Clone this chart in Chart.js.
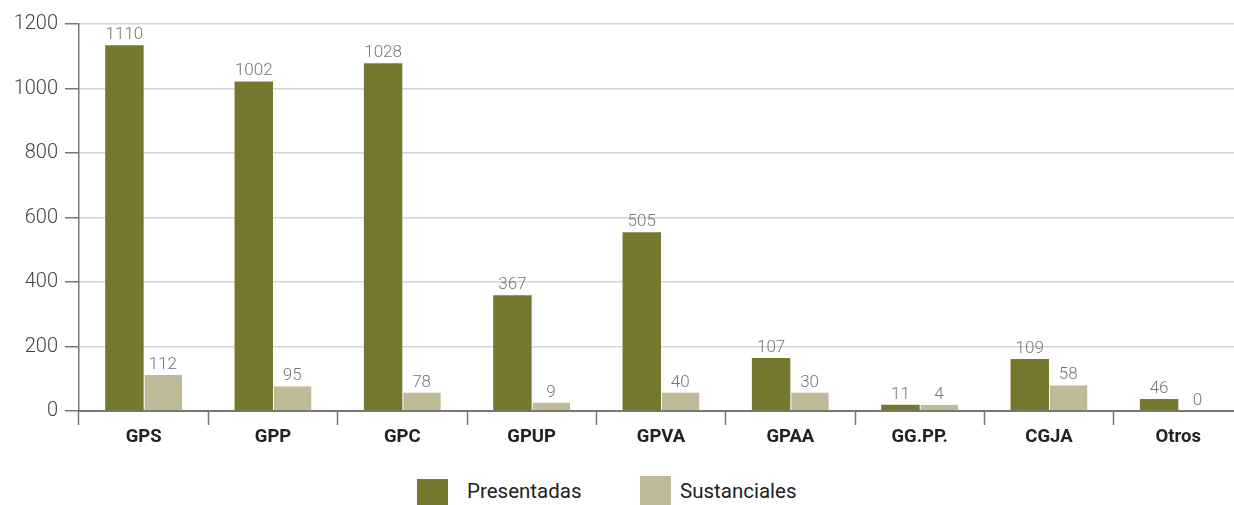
<!DOCTYPE html>
<html>
<head>
<meta charset="utf-8">
<script src="https://cdn.jsdelivr.net/npm/chart.js@4/dist/chart.umd.min.js"></script>
<style>
  html, body { margin: 0; padding: 0; background: #fff; overflow: hidden; }
  #wrap { position: relative; width: 1234px; height: 505px; overflow: hidden; }
  #chart { position: absolute; left: 0; top: 0; }
  .lg-box { position: absolute; width: 31px; height: 31px; }
  .lg-txt { position: absolute; font-family: Roboto, sans-serif; font-size: 20.5px; color: #222; line-height: 22px; }
</style>
</head>
<body>
<div id="wrap">
  <canvas id="chart" width="1250" height="460" style="width:1250px;height:460px"></canvas>
  <div class="lg-box" style="left:417px;top:479px;background:#76782f"></div>
  <div class="lg-txt" style="left:467px;top:480px">Presentadas</div>
  <div class="lg-box" style="left:640px;top:476px;background:#bfbb98"></div>
  <div class="lg-txt" style="left:680px;top:480px">Sustanciales</div>
</div>
<script>
const categories = ["GPS", "GPP", "GPC", "GPUP", "GPVA", "GPAA", "GG.PP.", "CGJA", "Otros"];

// bar heights as drawn in the picture
const presentadas = [1134, 1022, 1078, 359, 554, 164, 19, 161, 37];
const sustanciales = [112, 77, 57, 26, 57, 57, 19, 80, 0];

// value labels printed above the bars
const presentadasLabels = ["1110", "1002", "1028", "367", "505", "107", "11", "109", "46"];
const sustancialesLabels = ["112", "95", "78", "9", "40", "30", "4", "58", "0"];

const yTicks = [0, 200, 400, 600, 800, 1000, 1200];

const OLIVE = "#76782f";
const SAND = "#bfbb98";

const valueLabels = {
    id: "valueLabels",
    afterDatasetsDraw(chart) {
        const ctx = chart.ctx;
        const texts = [presentadasLabels, sustancialesLabels];
        ctx.save();
        ctx.font = "300 17px Roboto, sans-serif";
        ctx.fillStyle = "#777";
        ctx.textAlign = "center";
        ctx.textBaseline = "alphabetic";
        chart.data.datasets.forEach((ds, di) => {
            chart.getDatasetMeta(di).data.forEach((bar, i) => {
                ctx.fillText(texts[di][i], bar.x, bar.y - 6);
            });
        });
        ctx.restore();
    }
};

new Chart(document.getElementById("chart"), {
    type: "bar",
    data: {
        labels: categories,
        datasets: [
            { label: "Presentadas", data: presentadas, backgroundColor: OLIVE },
            {
                label: "Sustanciales", data: sustanciales, backgroundColor: SAND,
                borderColor: "#fff", borderWidth: { left: 1, right: 0, top: 0, bottom: 0 },
                borderSkipped: false
            }
        ]
    },
    options: {
        responsive: false,
        animation: false,
        layout: { padding: { top: 24, right: 7, left: 0, bottom: 0 } },
        datasets: { bar: { barPercentage: 1.0, categoryPercentage: 0.595 } },
        plugins: {
            legend: { display: false },
            tooltip: { enabled: false }
        },
        scales: {
            x: {
                afterFit: s => { s.height = 49; },
                grid: {
                    offset: true,
                    drawOnChartArea: false,
                    tickLength: 14,
                    tickColor: "#777",
                    tickWidth: 1.5
                },
                border: { color: "#777", width: 2 },
                ticks: {
                    padding: 1,
                    color: "#222",
                    font: { family: "Roboto, sans-serif", size: 18.5, weight: "bold" }
                }
            },
            y: {
                min: 0,
                max: 1200,
                afterFit: s => { s.width = 79; },
                afterBuildTicks: s => { s.ticks = yTicks.map(v => ({ value: v })); },
                grid: {
                    color: "#d4d4d4",
                    lineWidth: 1.5,
                    tickLength: 14,
                    tickColor: "#777",
                    tickWidth: 1.5
                },
                border: { color: "#777", width: 1.5 },
                ticks: {
                    padding: 7,
                    color: "#444",
                    callback: v => String(v),
                    font: { family: "Roboto, sans-serif", size: 20, weight: "300" }
                }
            }
        }
    },
    plugins: [valueLabels]
});
</script>
</body>
</html>
